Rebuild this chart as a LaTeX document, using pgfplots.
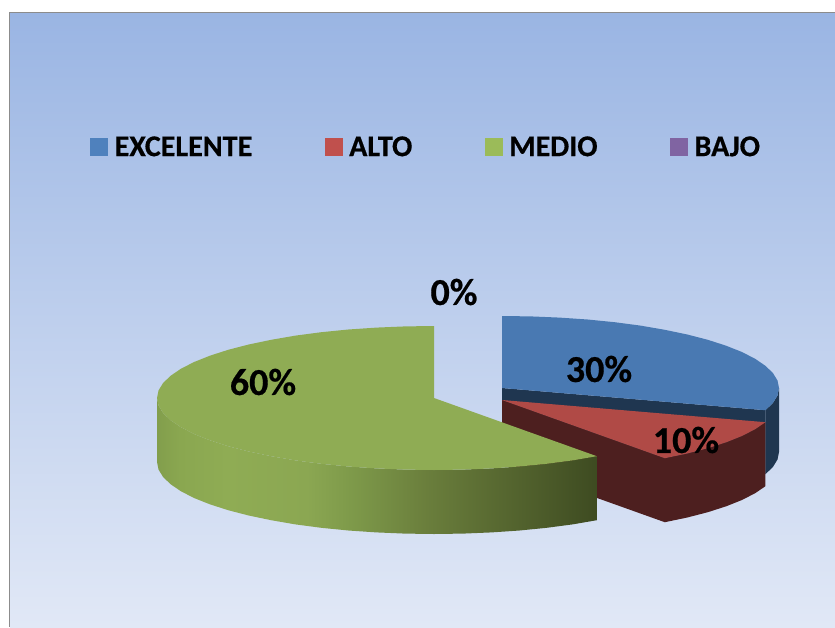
\documentclass[border=0pt]{standalone}
\usepackage{fontspec}
\setmainfont[BoldFeatures={FakeBold=0.5}]{Carlito}
\usepackage{pgfplots}
\pgfplotsset{compat=1.18}

\definecolor{backdropTop}{RGB}{154,181,227}
\definecolor{backdropMid}{RGB}{190,207,237}
\definecolor{backdropLow}{RGB}{225,232,246}
\definecolor{ms0}{RGB}{130,158,76}
\definecolor{ms1}{RGB}{138,167,80}
\definecolor{ms2}{RGB}{143,172,84}
\definecolor{ms3}{RGB}{139,167,82}
\definecolor{ms4}{RGB}{126,154,74}
\definecolor{ms5}{RGB}{106,126,60}
\definecolor{ms6}{RGB}{62,75,33}

% Backdrop and the lit side wall of the large slice
\pgfdeclareverticalshading{backdrop}{100bp}{
  color(0bp)=(backdropLow); color(25bp)=(backdropLow);
  color(50bp)=(backdropMid); color(75bp)=(backdropTop); color(100bp)=(backdropTop)}
\pgfdeclarehorizontalshading{medioside}{100bp}{
  color(0bp)=(ms0); color(25bp)=(ms0); color(27.6bp)=(ms1); color(33bp)=(ms2);
  color(42bp)=(ms3); color(47bp)=(ms4); color(55.7bp)=(ms5);
  color(75bp)=(ms6); color(100bp)=(ms6)}

\definecolor{altoTop}{RGB}{176,74,70}
\definecolor{altoDark}{RGB}{77,31,31}
\definecolor{excTop}{RGB}{73,121,178}
\definecolor{excDark}{RGB}{31,54,80}
\definecolor{medTop}{RGB}{143,172,84}
\definecolor{keyExc}{RGB}{79,129,189}
\definecolor{keyAlto}{RGB}{192,80,77}
\definecolor{keyMed}{RGB}{155,187,89}
\definecolor{keyBajo}{RGB}{128,100,162}

\pgfplotsset{
  keybox/.style={legend image code/.code={
    \fill[##1] (0pt,-8pt) rectangle (17pt,9pt);}}
}
\tikzset{share/.style={font=\fontsize{38}{40}\selectfont\bfseries, text=black}}

\begin{document}
\begin{tikzpicture}
\begin{axis}[
  scale only axis, width=835pt, height=627pt,
  xmin=0, xmax=835, ymin=0, ymax=627, y dir=reverse,
  axis lines=none, clip=true,
  legend columns=4,
  legend style={
    at={(axis cs:90,147)}, anchor=west, draw=none, fill=none, inner sep=0pt,
    font=\fontsize{30.1}{32}\selectfont\bfseries,
    /tikz/every even column/.append style={column sep=70.5pt},
    /tikz/every odd column/.append style={column sep=5pt},
  },
]
% Page margin, then the panel background and its frame
\addplot[draw=none, fill=white, forget plot]
  coordinates {(0,0) (835,0) (835,627) (0,627)} --cycle;
\addplot[draw=none, shade, shading=backdrop, forget plot]
  coordinates {(10,13) (835,13) (835,627) (10,627)} --cycle;
\addplot[draw={rgb,255:red,140;green,140;blue,140}, line width=1.6pt, forget plot]
  coordinates {(9.5,627) (9.5,12.5) (835,12.5)};

% EXCELENTE, 30 %
\addplot[draw=none, fill=excDark, forget plot] coordinates {
  (779,388) (777.5,395.5) (772.9,403) (765.4,410.2)
  (765.4,474.2) (772.9,467) (777.5,459.5) (779,452)} --cycle;
\addplot[draw=none, fill=excDark, forget plot] coordinates {
  (502,388) (765.4,410.2) (765.4,474.2) (502,452)} --cycle;
\addplot[draw=none, fill=excTop, forget plot] coordinates {
  (502,316) (530.9,316.4) (559.6,317.6) (587.6,319.5) (614.7,322.2) (640.5,325.6)
  (664.8,329.8) (687.3,334.5) (707.8,339.8) (726.1,345.7) (741.9,352) (755,358.7)
  (765.4,365.8) (772.9,373) (777.5,380.5) (779,388) (777.5,395.5) (772.9,403)
  (765.4,410.2) (502,388)} --cycle;

% ALTO, 10 %
\addplot[draw=none, fill=altoDark, forget plot] coordinates {
  (765.4,422.2) (755,429.3) (741.9,436) (726.1,442.3) (707.8,448.2) (687.3,453.5)
  (664.8,458.2) (664.8,522.2) (687.3,517.5) (707.8,512.2) (726.1,506.3)
  (741.9,500) (755,493.3) (765.4,486.2)} --cycle;
\addplot[draw=none, fill=altoDark, forget plot] coordinates {
  (502,400) (664.8,458.2) (664.8,522.2) (502,464)} --cycle;
\addplot[draw=none, fill=altoTop, forget plot] coordinates {
  (502,400) (765.4,422.2) (755,429.3) (741.9,436) (726.1,442.3) (707.8,448.2)
  (687.3,453.5) (664.8,458.2)} --cycle;

% MEDIO, 60 %
\addplot[draw=none, shade, shading=medioside, forget plot] coordinates {
  (157,398) (158.5,405.5) (163.1,413) (170.6,420.2) (181,427.3) (194.1,434)
  (209.9,440.3) (228.2,446.2) (248.7,451.5) (271.2,456.2) (295.5,460.4)
  (321.3,463.8) (348.4,466.5) (376.4,468.4) (405.1,469.6) (434,470) (462.9,469.6)
  (491.6,468.4) (519.6,466.5) (546.7,463.8) (572.5,460.4) (596.8,456.2)
  (596.8,520.2) (572.5,524.4) (546.7,527.8) (519.6,530.5) (491.6,532.4)
  (462.9,533.6) (434,534) (405.1,533.6) (376.4,532.4) (348.4,530.5) (321.3,527.8)
  (295.5,524.4) (271.2,520.2) (248.7,515.5) (228.2,510.2) (209.9,504.3) (194.1,498)
  (181,491.3) (170.6,484.2) (163.1,477) (158.5,469.5) (157,462)} --cycle;
\addplot[draw=none, fill=medTop, forget plot] coordinates {
  (434,326) (405.1,326.4) (376.4,327.6) (348.4,329.5) (321.3,332.2) (295.5,335.6)
  (271.2,339.8) (248.7,344.5) (228.2,349.8) (209.9,355.7) (194.1,362) (181,368.7)
  (170.6,375.8) (163.1,383) (158.5,390.5) (157,398) (158.5,405.5) (163.1,413)
  (170.6,420.2) (181,427.3) (194.1,434) (209.9,440.3) (228.2,446.2) (248.7,451.5)
  (271.2,456.2) (295.5,460.4) (321.3,463.8) (348.4,466.5) (376.4,468.4) (405.1,469.6)
  (434,470) (462.9,469.6) (491.6,468.4) (519.6,466.5) (546.7,463.8) (572.5,460.4)
  (596.8,456.2) (434,398)} --cycle;

% Share labels
\node[share] at (axis cs:599,369) {30\%};
\node[share] at (axis cs:686,440) {10\%};
\node[share] at (axis cs:263,382) {60\%};
\node[share] at (axis cs:454,292) {0\%};

% Key
\addlegendimage{keybox, keyExc}\addlegendentry{EXCELENTE}
\addlegendimage{keybox, keyAlto}\addlegendentry{ALTO}
\addlegendimage{keybox, keyMed}\addlegendentry{MEDIO}
\addlegendimage{keybox, keyBajo}\addlegendentry{BAJO}
\end{axis}
\end{tikzpicture}
\end{document}
